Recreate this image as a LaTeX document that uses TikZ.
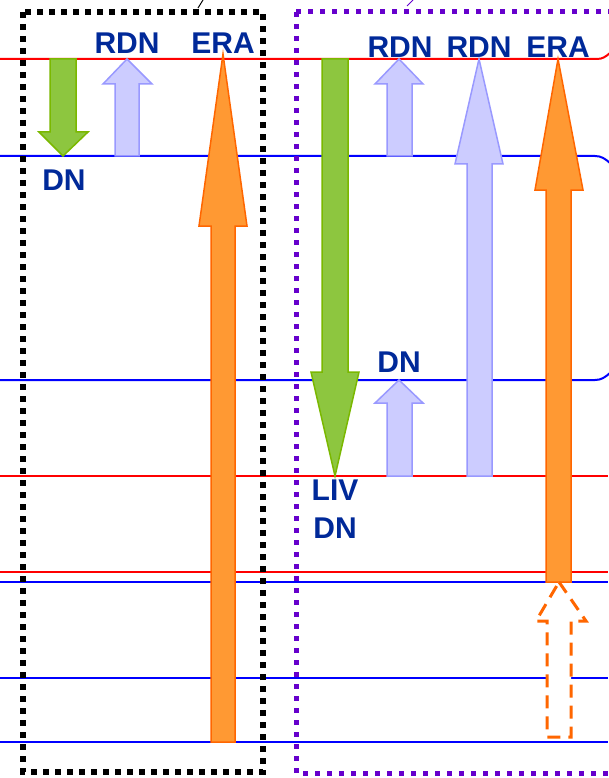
\documentclass[tikz,border=0pt]{standalone}
\usepackage{fontspec}
\setmainfont{Liberation Sans}
\definecolor{lblue}{RGB}{0,41,153}
\definecolor{gfill}{RGB}{141,198,63}
\definecolor{gdraw}{RGB}{122,184,0}
\definecolor{bfill}{RGB}{204,204,255}
\definecolor{bdraw}{RGB}{153,153,255}
\definecolor{ofill}{RGB}{255,153,51}
\definecolor{odraw}{RGB}{255,102,0}
\definecolor{purp}{RGB}{102,0,204}
\begin{document}
\begin{tikzpicture}[x=1pt,y=-1pt,
  lbl/.style={text=lblue,font=\fontsize{30}{30}\selectfont\bfseries,inner sep=0pt},
  redline/.style={draw=red,line width=2pt},
  blueline/.style={draw=blue,line width=2pt},
  greenarr/.style={fill=gfill,draw=gdraw,line width=1.5pt},
  bluearr/.style={fill=bfill,draw=bdraw,line width=1.5pt},
  orangearr/.style={fill=ofill,draw=odraw,line width=1.5pt},
  dasharr/.style={fill=white,draw=odraw,line width=3pt,dash pattern=on 13pt off 8pt},
  blackdots/.style={draw=black,line width=6pt,dash pattern=on 6pt off 6pt},
  purpdots/.style={draw=purp,line width=5pt,dash pattern=on 5pt off 7pt}]
\useasboundingbox (0,0) rectangle (608,778);
\fill[white] (0,0) rectangle (608,778);
% horizontal lines
\draw[redline] (0,59) -- (597,59) to[out=0,in=-140] (610,53);
\draw[blueline] (0,156) -- (595,156) to[out=0,in=140] (610,163);
\draw[blueline] (0,380) -- (595,380) to[out=0,in=-140] (610,373);
\draw[redline] (0,476) -- (608,476);
\draw[redline] (0,572) -- (608,572);
\draw[blueline] (0,582) -- (608,582);
\draw[blueline] (0,678) -- (608,678);
\draw[blueline] (0,742) -- (608,742);
% dotted frames
\draw[blackdots] (23,12) rectangle (263,772);
\draw[purpdots] (296,12) -- (296,773) -- (620,773);
\draw[purpdots] (296,12) -- (620,12);
\draw[line width=1pt] (198,8) -- (203,0);
\draw[purp,line width=1pt] (407,6) -- (413,0);
% left arrows
\path[greenarr] (50,59) -- (76,59) -- (76,132) -- (88,132) -- (63,156) -- (39,132) -- (50,132) -- cycle;
\path[bluearr] (127,59) -- (152,84) -- (139,84) -- (139,156) -- (115,156) -- (115,84) -- (103,84) -- cycle;
\path[orangearr] (223,54) -- (247,226) -- (235,226) -- (235,742) -- (211,742) -- (211,226) -- (199,226) -- cycle;
% right arrows
\path[greenarr] (322,59) -- (348,59) -- (348,372) -- (359,372) -- (335,476) -- (311,372) -- (322,372) -- cycle;
\path[bluearr] (399,59) -- (423,84) -- (412,84) -- (412,156) -- (387,156) -- (387,84) -- (375,84) -- cycle;
\path[bluearr] (479,59) -- (503,164) -- (492,164) -- (492,476) -- (467,476) -- (467,164) -- (455,164) -- cycle;
\path[orangearr] (558,59) -- (583,190) -- (571,190) -- (571,582) -- (546,582) -- (546,190) -- (535,190) -- cycle;
\path[bluearr] (399,380) -- (423,403) -- (412,403) -- (412,476) -- (387,476) -- (387,403) -- (375,403) -- cycle;
\path[dasharr] (559,582) -- (586,621) -- (571,621) -- (571,737) -- (547,737) -- (547,621) -- (536,621) -- cycle;
% labels
\node[lbl] (rdnL) at (127,43) {RDN};
\node[lbl] (eraL) at (223,43) {ERA};
\node[lbl] (dnL) at (64,180) {DN};
\node[lbl] (rdnR1) at (400,47) {RDN};
\node[lbl] (rdnR2) at (479,47) {RDN};
\node[lbl] (eraR) at (558,47) {ERA};
\node[lbl] (dnM) at (399,362) {DN};
\node[lbl] (liv) at (335,490) {LIV};
\node[lbl] (dnR) at (335,528) {DN};
\end{tikzpicture}
\end{document}
